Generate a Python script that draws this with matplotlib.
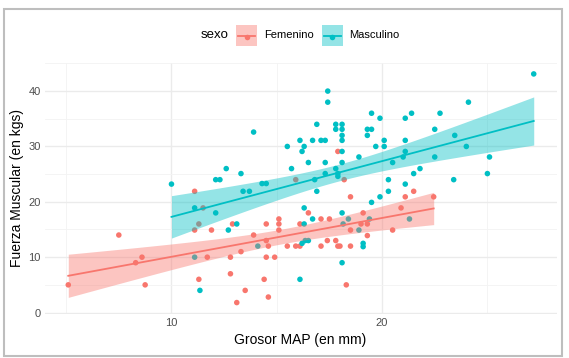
import numpy as np
import matplotlib
matplotlib.use("Agg")
import matplotlib.pyplot as plt
from matplotlib.patches import Rectangle
from matplotlib.lines import Line2D

plt.rcParams['font.family'] = ['Liberation Sans', 'DejaVu Sans']

# ---------------- data ----------------
groups = ["Femenino", "Masculino"]

fem_x = [17.9, 21.5, 18.5, 21.1, 22.45, 20.9, 19.1, 19.0, 19.3, 18.5, 20.5, 19.3,
         18.5, 18.0, 18.3, 11.1, 12.9, 14.5, 15.1, 15.1, 15.1, 16.1, 16.5, 17.1,
         17.5, 11.9, 13.9, 14.5, 14.6, 15.5, 15.9, 16.1, 17.1, 17.4, 17.8, 17.9,
         13.3, 11.7, 12.8, 14.5, 14.9, 12.8, 11.3, 14.4, 13.5, 14.6, 13.1, 7.5,
         8.6, 8.3, 5.1, 8.75, 11.5, 11.3, 11.1, 15.9, 18.2]
fem_y = [29.1, 21.9, 20.9, 20.9, 20.9, 18.9, 18.0, 16.0, 16.0, 14.9, 14.9, 13.9,
         12.0, 12.0, 5.0, 21.9, 16.0, 16.0, 16.9, 16.0, 14.9, 16.0, 18.0, 16.9,
         16.9, 14.9, 14.0, 13.0, 12.0, 12.0, 12.0, 12.0, 12.0, 13.0, 13.0, 12.0,
         11.0, 10.0, 10.0, 10.0, 10.0, 7.0, 6.0, 6.0, 4.0, 2.8, 1.8, 14.0,
         10.0, 9.0, 5.0, 5.0, 18.9, 16.0, 14.9, 24.0, 24.0]

mas_x = [17.42, 17.42, 13.9, 16.9, 17.8, 18.1, 17.8, 18.1, 18.1, 18.1, 16.1, 16.7,
         17.1, 17.3, 15.5, 16.3, 16.2, 18.1, 16.5, 17.3, 18.1, 15.7, 17.8, 12.6,
         13.3, 17.3, 17.9, 12.1, 12.3, 10.0, 14.3, 14.5, 16.8, 27.2, 24.1, 19.5,
         21.4, 22.75, 19.9, 21.1, 19.3, 19.5, 19.3, 22.5, 23.45, 20.1, 21.1, 19.7,
         20.1, 24.0, 21.1, 18.9, 22.5, 25.1, 20.5, 21.0, 21.8, 21.5, 25.0, 20.3,
         23.4, 21.1, 20.3, 19.9, 19.5, 18.1, 18.4, 21.3, 19.4, 18.15, 18.9, 19.1,
         19.1, 18.1, 13.4, 13.7, 16.9, 11.1, 12.1, 16.3, 16.7, 13.1, 12.7, 16.3,
         16.2, 16.35, 16.5, 14.1, 11.1, 16.1, 11.35, 17.9]
mas_y = [40.0, 38.0, 32.6, 34.0, 34.0, 34.0, 33.1, 33.1, 32.0, 31.1, 31.1, 31.1,
         31.1, 31.1, 30.0, 30.0, 29.1, 29.1, 27.1, 27.1, 27.1, 26.0, 26.0, 26.0,
         25.1, 25.1, 25.1, 24.0, 24.0, 23.2, 23.3, 23.3, 24.0, 43.1, 38.0, 36.0,
         36.0, 36.0, 35.1, 35.1, 33.1, 33.1, 32.0, 33.1, 32.0, 31.1, 31.1, 30.0,
         30.0, 30.0, 29.1, 28.1, 28.1, 28.1, 27.1, 28.1, 26.0, 25.1, 25.1, 24.0,
         24.0, 23.2, 21.9, 20.9, 19.9, 18.0, 16.9, 16.9, 16.9, 16.0, 14.9, 12.5,
         11.9, 9.0, 21.9, 21.9, 21.9, 18.9, 18.0, 18.9, 16.9, 16.0, 14.9, 16.0,
         12.5, 13.0, 13.0, 12.0, 10.0, 6.0, 4.0, 24.6]

x_ticks = [10, 20]
y_ticks = [0, 10, 20, 30, 40]
x_minor = [5, 15, 25]
y_minor = [5, 15, 25, 35, 45]

colors = {"Femenino": "#F8766D", "Masculino": "#00BFC4"}
data = {"Femenino": (np.array(fem_x), np.array(fem_y)),
        "Masculino": (np.array(mas_x), np.array(mas_y))}

W, H = 569, 358
fig = plt.figure(figsize=(W / 100, H / 100), dpi=100)
ax = fig.add_axes([45 / W, 1 - 314 / H, 512 / W, (314 - 62.5) / H])


def fit(x, y):
    n = len(x)
    b, a = np.polyfit(x, y, 1)
    xs = np.linspace(x.min(), x.max(), 80)
    yh = a + b * xs
    res = y - (a + b * x)
    s = np.sqrt(np.sum(res ** 2) / (n - 2))
    sxx = np.sum((x - x.mean()) ** 2)
    df = n - 2
    z = 1.959964
    t = z + (z ** 3 + z) / (4 * df) + (5 * z ** 5 + 16 * z ** 3 + 3 * z) / (96 * df ** 2)
    se = s * np.sqrt(1 / n + (xs - x.mean()) ** 2 / sxx)
    return xs, yh, yh - t * se, yh + t * se


allx, ally = [], []
fits = {}
for g in groups:
    x, y = data[g]
    ax.scatter(x, y, s=16, color=colors[g], edgecolors='none', zorder=3)
    fits[g] = fit(x, y)
    allx += list(x)
    ally += list(y) + list(fits[g][2]) + list(fits[g][3])

for g in groups:
    xs, yh, lo, hi = fits[g]
    ax.fill_between(xs, lo, hi, color=colors[g], alpha=0.42, linewidth=0, zorder=4)
for g in groups:
    xs, yh, lo, hi = fits[g]
    ax.plot(xs, yh, color=colors[g], lw=1.3, zorder=5)

xmin, xmax = min(allx), max(allx)
ymin, ymax = min(ally), max(ally)
dx, dy = (xmax - xmin) * 0.05, (ymax - ymin) * 0.05
ax.set_xlim(xmin - dx, xmax + dx)
ax.set_ylim(ymin - dy, ymax + dy)

ax.set_xticks(x_ticks)
ax.set_yticks(y_ticks)
ax.set_xticks(x_minor, minor=True)
ax.set_yticks(y_minor, minor=True)
ax.grid(True, which='major', color='#EBEBEB', lw=1.0, zorder=0)
ax.grid(True, which='minor', color='#F3F3F3', lw=0.6, zorder=0)
ax.set_axisbelow(True)
for sp in ax.spines.values():
    sp.set_visible(False)
ax.tick_params(which='both', length=0, labelsize=8, colors='#4D4D4D', pad=3)

fig.text(300 / W, 1 - 340 / H, "Grosor MAP (en mm)", ha='center', va='center',
         fontsize=10, color='black')
fig.text(17 / W, 1 - 188 / H, "Fuerza Muscular (en kgs)", ha='center', va='center',
         rotation=90, fontsize=10, color='black')

# legend
cy = 35.5
fig.text(201 / W, 1 - cy / H, "sexo", ha='left', va='center', fontsize=9.5, color='black')
for g, kx, lx in [("Femenino", 236, 264), ("Masculino", 322, 349)]:
    fig.add_artist(Rectangle((kx / W, 1 - 46 / H), 21 / W, 21 / H, transform=fig.transFigure,
                             facecolor=colors[g], alpha=0.42, edgecolor='none'))
    fig.add_artist(Line2D([(kx + 2) / W, (kx + 19) / W], [1 - cy / H, 1 - cy / H],
                          transform=fig.transFigure, color=colors[g], lw=1.3))
    fig.add_artist(Line2D([(kx + 10.5) / W], [1 - (cy + 1) / H], transform=fig.transFigure,
                          color=colors[g], marker='o', markersize=4, markeredgewidth=0))
    fig.text(lx / W, 1 - cy / H, g, ha='left', va='center', fontsize=8, color='black')

fig.add_artist(Rectangle((4 / W, 1 - 356 / H), 558 / W, 347 / H, transform=fig.transFigure,
                         fill=False, edgecolor='#BEBEBE', lw=1.5))

fig.savefig("out.png", dpi=100)
